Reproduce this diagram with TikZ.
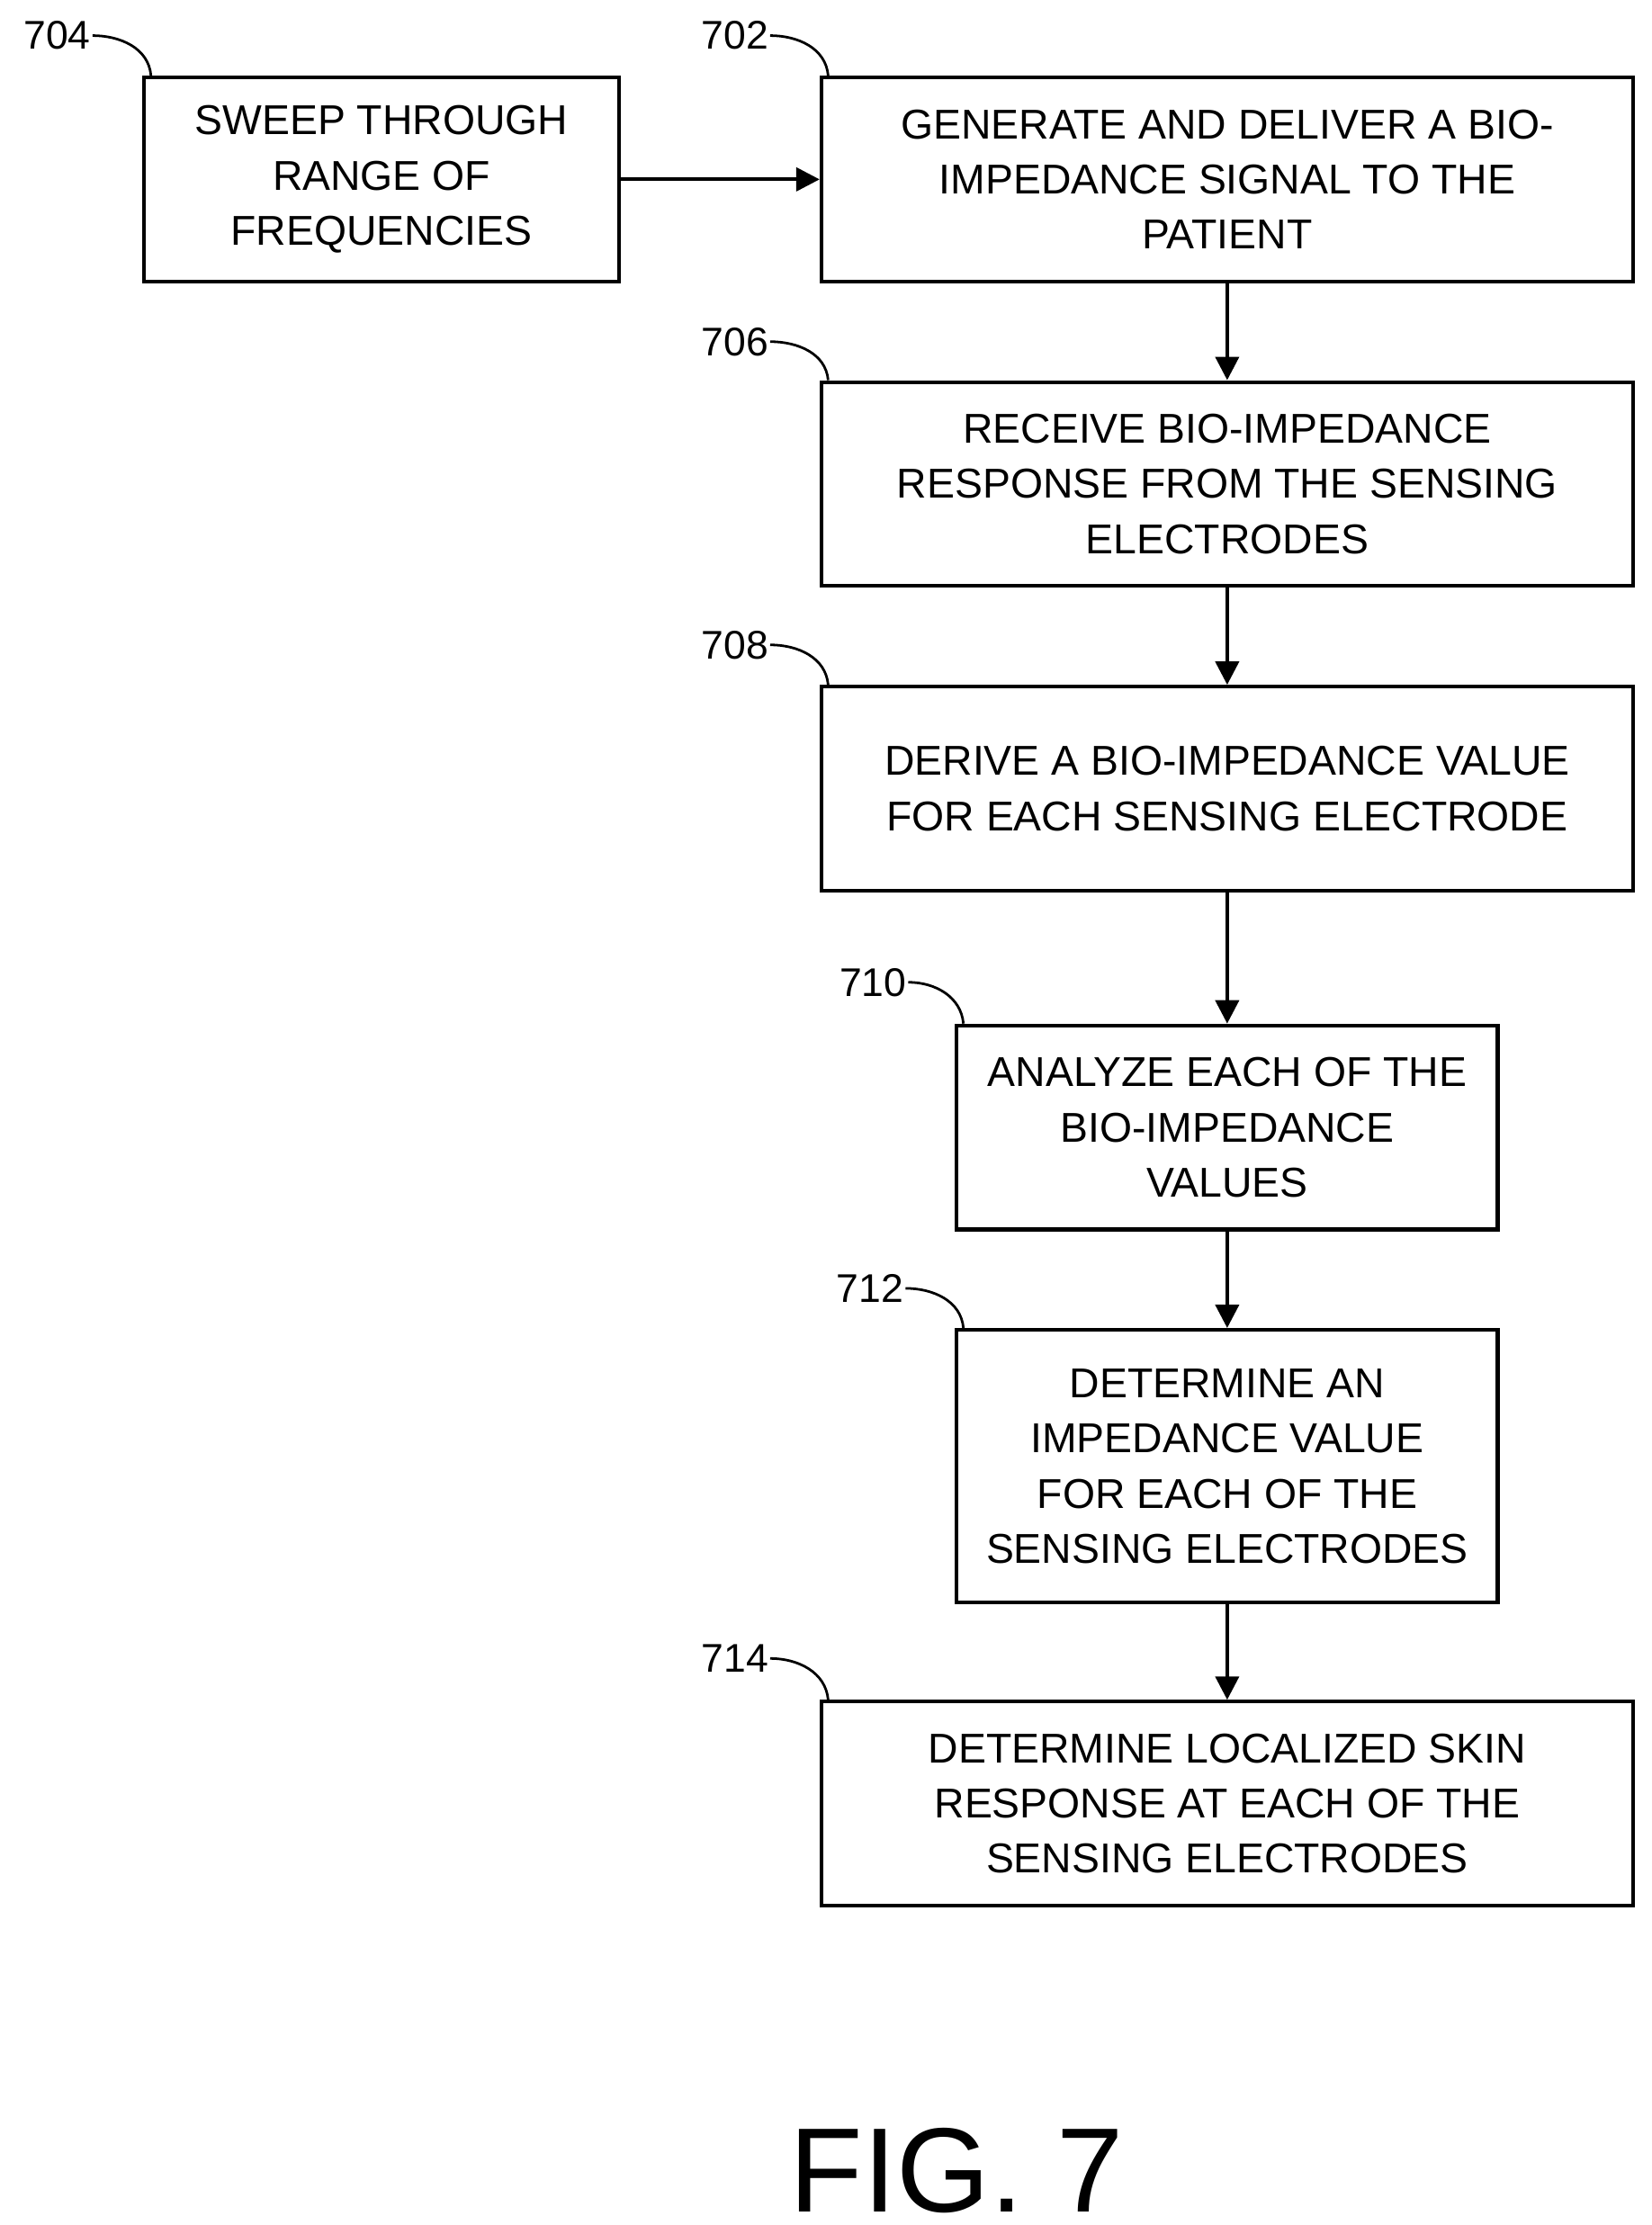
\documentclass[tikz,border=0pt]{standalone}
\usepackage{fontspec}
\setmainfont{Liberation Sans}
\usetikzlibrary{positioning,arrows.meta}
\tikzstyle{fc_step} = [rectangle, draw=black, line width=2.2pt, align=center, font=\fontsize{25}{33}\selectfont, inner sep=0pt]
\tikzstyle{wide_step} = [fc_step, minimum width=17.1cm, minimum height=4.3cm]
\tikzstyle{narrow_step} = [fc_step, minimum width=11.4cm, minimum height=4.3cm]
\tikzstyle{ref} = [font=\fontsize{24}{28}\selectfont, inner sep=1pt]
\tikzstyle{lead} = [line width=1.5pt]
\tikzstyle{flow} = [line width=2.2pt, -{Triangle[length=14pt,width=14pt]}]
\begin{document}
\begin{tikzpicture}[x=0.03cm,y=-0.03cm]
      \useasboundingbox (0,0) rectangle (1160,1563);

      %%%%%%%%%%%%%%%%%%%%%%%%%%%%%%%%%%%%%%%%%%%%%%%%%
      % STEPS
      %%%%%%%%%%%%%%%%%%%%%%%%%%%%%%%%%%%%%%%%%%%%%%%%%
      \node[fc_step, minimum width=10cm, minimum height=4.3cm] (SW) at (268,126) {SWEEP THROUGH\\RANGE OF\\FREQUENCIES};
      \node[wide_step] (GEN) at (862,126) {GENERATE AND DELIVER A BIO-\\IMPEDANCE SIGNAL TO THE\\PATIENT};
      \node[wide_step] (REC) at (862,340) {RECEIVE BIO-IMPEDANCE\\RESPONSE FROM THE SENSING\\ELECTRODES};
      \node[wide_step] (DER) at (862,554) {DERIVE A BIO-IMPEDANCE VALUE\\FOR EACH SENSING ELECTRODE};
      \node[narrow_step] (ANA) at (862,792) {ANALYZE EACH OF THE\\BIO-IMPEDANCE\\VALUES};
      \node[narrow_step, minimum height=5.75cm] (DET) at (862,1030) {DETERMINE AN\\IMPEDANCE VALUE\\FOR EACH OF THE\\SENSING ELECTRODES};
      \node[wide_step] (LOC) at (862,1267) {DETERMINE LOCALIZED SKIN\\RESPONSE AT EACH OF THE\\SENSING ELECTRODES};

      %%%%%%%%%%%%%%%%%%%%%%%%%%%%%%%%%%%%%%%%%%%%%%%%%
      % ARROWS
      %%%%%%%%%%%%%%%%%%%%%%%%%%%%%%%%%%%%%%%%%%%%%%%%%
      \draw[flow] (SW) -- (GEN);
      \draw[flow] (GEN) -- (REC);
      \draw[flow] (REC) -- (DER);
      \draw[flow] (DER) -- (ANA);
      \draw[flow] (ANA) -- (DET);
      \draw[flow] (DET) -- (LOC);

      %%%%%%%%%%%%%%%%%%%%%%%%%%%%%%%%%%%%%%%%%%%%%%%%%
      % REFERENCE NUMBERS
      %%%%%%%%%%%%%%%%%%%%%%%%%%%%%%%%%%%%%%%%%%%%%%%%%
      \node[ref, anchor=east] (R704) at (65,25) {704};
      \node[ref, anchor=east] (R702) at (541,25) {702};
      \node[ref, anchor=east] (R706) at (541,240) {706};
      \node[ref, anchor=east] (R708) at (541,453) {708};
      \node[ref, anchor=east] (R710) at (638,690) {710};
      \node[ref, anchor=east] (R712) at (636,905) {712};
      \node[ref, anchor=east] (R714) at (541,1165) {714};
      \draw[lead] (R704.east) to[out=0,in=95] ([xshift=0.18cm]SW.north west);
      \draw[lead] (R702.east) to[out=0,in=95] ([xshift=0.18cm]GEN.north west);
      \draw[lead] (R706.east) to[out=0,in=95] ([xshift=0.18cm]REC.north west);
      \draw[lead] (R708.east) to[out=0,in=95] ([xshift=0.18cm]DER.north west);
      \draw[lead] (R710.east) to[out=0,in=95] ([xshift=0.18cm]ANA.north west);
      \draw[lead] (R712.east) to[out=0,in=95] ([xshift=0.18cm]DET.north west);
      \draw[lead] (R714.east) to[out=0,in=95] ([xshift=0.18cm]LOC.north west);

      \node[font=\fontsize{72}{80}\selectfont] (FIG) at (672,1525) {FIG. 7};
\end{tikzpicture}
\end{document}
